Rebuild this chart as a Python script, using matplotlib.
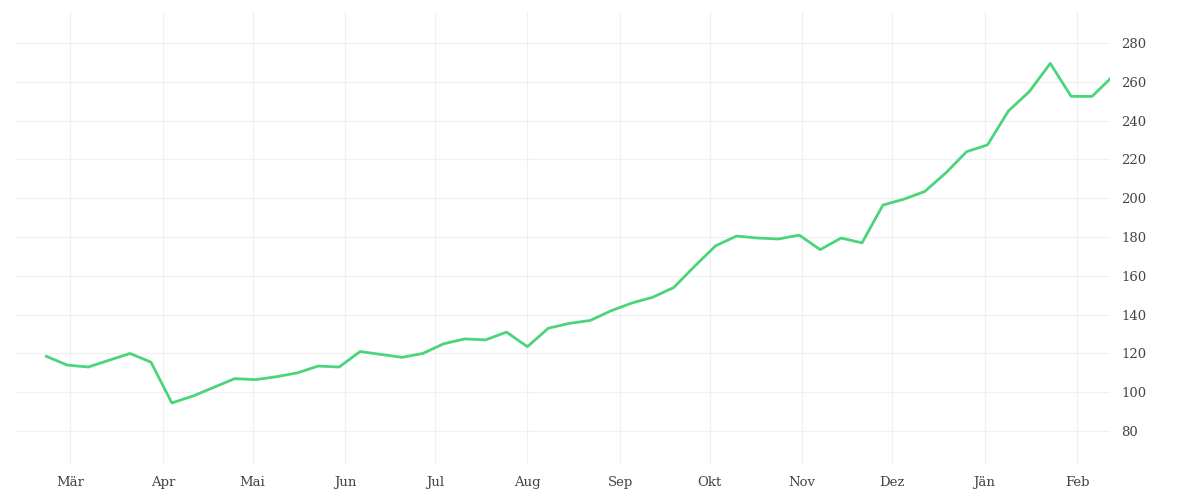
import numpy as np
import pandas as pd
import matplotlib
matplotlib.use("Agg")
import matplotlib.pyplot as plt
import matplotlib.dates as mdates

# weekly values
start = "2020-02-22"
values = [118.5, 114, 113, 116.5, 120, 115.5, 94.5, 98, 102.5, 107, 106.5, 108,
          110, 113.5, 113, 121, 119.5, 118, 120, 125, 127.5, 127, 131, 123.5,
          133, 135.5, 137, 142, 146, 149, 154, 165, 175.5, 180.5, 179.5, 179,
          181, 173.5, 179.5, 177, 196.5, 199.5, 203.5, 213, 224, 227.5, 245,
          255, 269.5, 252.5, 252.5, 263]
month_labels = ["Mär", "Apr", "Mai", "Jun", "Jul", "Aug", "Sep", "Okt", "Nov", "Dez", "Jän", "Feb"]
y_ticks = [80, 100, 120, 140, 160, 180, 200, 220, 240, 260, 280]

dates = pd.date_range(start, periods=len(values), freq="7D")
month_ticks = pd.date_range("2020-03-01", periods=len(month_labels), freq="MS")

fig = plt.figure(figsize=(12, 5), dpi=100)
ax = fig.add_axes([15/1200, 35/500, 1095/1200, 453/500])
ax.plot(dates, values, color="#4cd47a", lw=2.0, solid_joinstyle="round")

ax.set_xlim(dates[0] - pd.Timedelta(days=10.5), pd.Timestamp("2021-02-12"))
ax.set_ylim(62.5, 296)
ax.set_xticks(month_ticks)
ax.set_xticklabels(month_labels)
ax.set_yticks(y_ticks)
ax.yaxis.tick_right()
for lab in ax.get_xticklabels() + ax.get_yticklabels():
    lab.set_family("DejaVu Serif")
    lab.set_fontsize(9.5)
    lab.set_color("#444444")
ax.tick_params(length=0, pad=8)
ax.grid(True, color="#f0f0f0", lw=0.8)
for s in ax.spines.values():
    s.set_visible(False)

fig.savefig("out.png")
